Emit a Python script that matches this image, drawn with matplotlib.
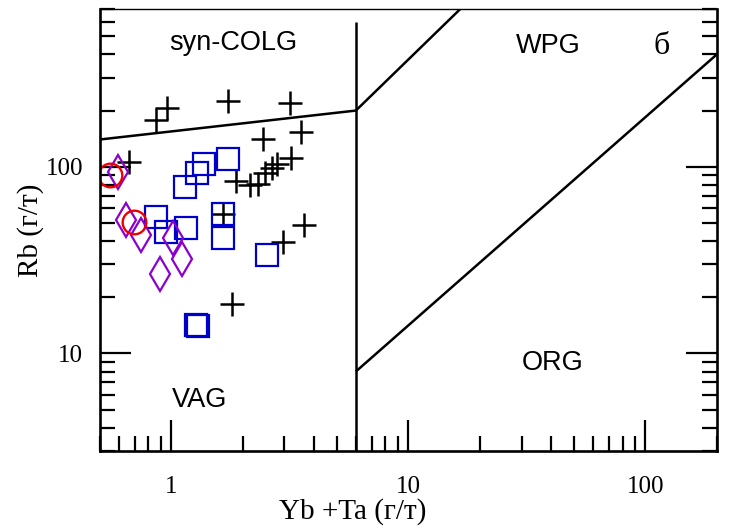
import matplotlib.pyplot as plt
from matplotlib.ticker import LogLocator, NullFormatter, FixedLocator, FixedFormatter

plt.rcParams['font.family'] = 'Liberation Serif'

# sample groups (Yb+Ta, Rb)
plus_x = [0.96, 0.86, 1.73, 3.16, 2.44, 3.53, 0.66, 3.21, 1.87, 2.14, 2.31,
          2.48, 2.65, 2.78, 1.65, 3.63, 2.96, 1.81]
plus_y = [207, 177, 225, 220, 141, 154, 106, 111, 84, 80, 81,
          93, 98, 103, 56, 49, 39.5, 18.4]

sq_x = [1.14, 1.28, 1.37, 1.73, 0.86, 0.95, 1.15, 1.65, 1.65, 2.52, 1.275, 1.29]
sq_y = [78, 93, 104, 110, 53.5, 44.5, 46.7, 55.5, 41.3, 33.5, 14.2, 14.0]

dm_x = [0.593, 0.646, 0.742, 1.02, 1.105, 0.892]
dm_y = [94, 51.6, 42.9, 41.3, 31.9, 26.6]

ci_x = [0.553, 0.695]
ci_y = [90.6, 50.9]

# field boundaries (Pearce et al., 1984)
colg_x, colg_y = [0.5, 6], [140, 200]
vert_x, vert_y = [6, 6], [600, 1]
wpg_x, wpg_y = [6, 17.5], [200, 750]
org_x, org_y = [6, 200], [8, 400]

fig = plt.figure(figsize=(7.3, 5.3), dpi=100)
ax = fig.add_axes([0.137, 0.149, 0.845, 0.834])
ax.set_xscale('log')
ax.set_yscale('log')
ax.set_xlim(0.5, 200)
ax.set_ylim(3, 700)

for xs, ys in [(colg_x, colg_y), (vert_x, vert_y), (wpg_x, wpg_y), (org_x, org_y)]:
    ax.plot(xs, ys, color='black', lw=1.8, solid_capstyle='butt')

ax.plot(plus_x, plus_y, ls='none', marker='+', ms=17, mew=1.8, color='black')
ax.plot(sq_x, sq_y, ls='none', marker='s', ms=16.5, mew=1.6, mfc='none', mec='#0000cc')
ax.plot(dm_x, dm_y, ls='none', marker='d', ms=17.5, mew=1.6, mfc='none', mec='#8a00cc')
ax.plot(ci_x, ci_y, ls='none', marker='o', ms=17, mew=1.7, mfc='none', mec='#ee0000')

sans = 'Liberation Sans'
ax.text(1.82, 458, 'syn-COLG', family=sans, fontsize=19.5, ha='center', va='center')
ax.text(39, 441, 'WPG', family=sans, fontsize=19.5, ha='center', va='center')
ax.text(117, 441, 'б', fontsize=23, ha='center', va='center')
ax.text(1.31, 5.66, 'VAG', family=sans, fontsize=19.5, ha='center', va='center')
ax.text(40.4, 8.94, 'ORG', family=sans, fontsize=19.5, ha='center', va='center')

# ticks
ax.xaxis.set_major_locator(FixedLocator([1, 10, 100]))
ax.xaxis.set_major_formatter(FixedFormatter(['1', '10', '100']))
ax.xaxis.set_minor_locator(LogLocator(base=10, subs=range(2, 10)))
ax.xaxis.set_minor_formatter(NullFormatter())
ax.yaxis.set_major_locator(FixedLocator([10, 100]))
ax.yaxis.set_major_formatter(FixedFormatter(['10', '100']))
ax.yaxis.set_minor_locator(LogLocator(base=10, subs=range(2, 10)))
ax.yaxis.set_minor_formatter(NullFormatter())

ax.tick_params(which='both', direction='in', width=1.6, top=False, right=True,
               labelsize=18)
ax.tick_params(axis='x', which='both', pad=18)
ax.tick_params(axis='y', which='both', pad=12)
ax.tick_params(which='major', length=22)
ax.tick_params(which='minor', length=11)

for s in ['left', 'right', 'bottom']:
    ax.spines[s].set_linewidth(1.9)
ax.spines['top'].set_linewidth(1.0)

ax.set_xlabel('Yb +Ta (г/т)', fontsize=21, x=0.41, labelpad=0)
ax.set_ylabel('Rb (г/т)', fontsize=21, labelpad=1)

plt.savefig('out.png', dpi=100)
